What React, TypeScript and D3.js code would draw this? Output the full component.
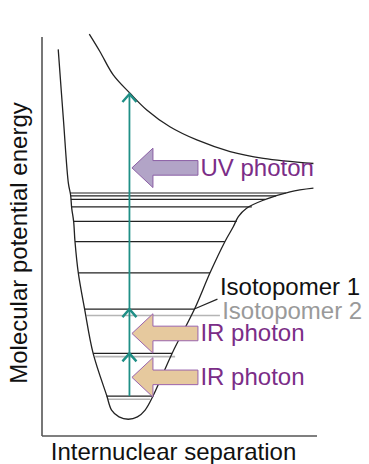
import React from "react";
import * as d3 from "d3";

// Ground-state potential, [separation, energy] (arbitrary units)
const groundCurve: [number, number][] = [
  [0.59, 9.69], [0.78, 7.92], [0.96, 6.33], [1.04, 6.04], [1.08, 5.71],
  [1.15, 5.38], [1.2, 4.87], [1.32, 4.09], [1.55, 3.18], [1.86, 2.07],
  [2.35, 1.02], [2.53, 0.65], [2.8, 0.48], [3.14, 0.42], [3.47, 0.48],
  [3.75, 0.65], [4.05, 1.02], [4.73, 2.07], [5.56, 3.2], [6.11, 4.09],
  [6.65, 4.87], [6.96, 5.25], [7.14, 5.5], [7.44, 5.71], [8.05, 5.91],
  [9.02, 6.12], [9.87, 6.21],
];

// Repulsive excited state
const excitedCurve: [number, number][] = [
  [1.72, 10.07], [2.11, 9.63], [2.59, 9.05], [3.2, 8.59], [3.81, 8.17],
  [4.65, 7.75], [5.63, 7.42], [6.84, 7.13], [8.05, 6.96], [9.87, 6.83],
];

// Vibrational levels: [energy, left r, right r]
const levelsIso1: [number, number, number][] = [
  [1.0, 2.35, 4.05], [2.07, 1.86, 4.73], [3.18, 1.55, 5.56], [4.09, 1.32, 6.11],
  [4.87, 1.2, 6.65], [5.38, 1.14, 7.08], [5.74, 1.07, 7.63], [5.93, 1.05, 8.11],
  [6.02, 1.04, 8.51], [6.09, 1.02, 8.87],
];
const levelsIso2: [number, number, number][] = [
  [0.92, 2.4, 3.93], [1.99, 1.93, 4.84], [3.02, 1.62, 6.47],
];

// Excitation steps (teal) at fixed separation
const transitionR = 3.18;
const transitions: [number, number][] = [[1.0, 2.07], [2.07, 3.18], [3.18, 8.57]];

// Photons: label, energy of arrow centre, kind
const photonLabels = ["UV photon", "IR photon", "IR photon"];
const photonEnergies = [6.72, 2.57, 1.47];
const photonKinds = ["uv", "ir", "ir"];

const W = 369;
const H = 464;
const FONT = "'Liberation Sans', Arial, Helvetica, sans-serif";
const PURPLE = "#7b2d87";
const TEAL = "#1f8f86";

export default function App() {
  const x = d3.scaleLinear().domain([0, 10]).range([42, 317]);
  const y = d3.scaleLinear().domain([0, 10]).range([436, 37]);

  const line = d3
    .line<[number, number]>()
    .x((d) => x(d[0]))
    .y((d) => y(d[1]))
    .curve(d3.curveCatmullRom.alpha(0.5));

  const tx = x(transitionR);

  // block arrow pointing left, tip at (0,0)
  const arrowPath = "M0,0 L21,-19.7 L21,-7.3 L66,-7.3 L66,7.3 L21,7.3 L21,19.7 Z";

  return (
    <svg
      width={W}
      height={H}
      style={{ position: "absolute", left: 0, top: 0, background: "#fff" }}
      fontFamily={FONT}
    >
      {/* axes */}
      <line x1={x(0)} x2={x(0)} y1={y(10)} y2={y(0)} stroke="#555" strokeWidth={1.6} />
      <line x1={x(0)} x2={x(10)} y1={y(0)} y2={y(0)} stroke="#555" strokeWidth={1.6} />

      {/* isotopomer 2 levels */}
      {levelsIso2.map(([e, r0, r1], i) => (
        <line key={"g" + i} x1={x(r0)} x2={x(r1)} y1={y(e)} y2={y(e)} stroke="#b5b5b5" strokeWidth={1.6} />
      ))}
      {/* isotopomer 1 levels */}
      {levelsIso1.map(([e, r0, r1], i) => (
        <line key={"b" + i} x1={x(r0)} x2={x(r1)} y1={y(e)} y2={y(e)} stroke="#222" strokeWidth={1.2} />
      ))}

      <path d={line(groundCurve) || ""} fill="none" stroke="#222" strokeWidth={1.3} />
      <path d={line(excitedCurve) || ""} fill="none" stroke="#222" strokeWidth={1.3} />

      {/* leader for Isotopomer 1 */}
      <line x1={x(5.56)} y1={y(3.19)} x2={x(6.38)} y2={y(3.43)} stroke="#222" strokeWidth={1.2} />

      {/* teal transitions */}
      {transitions.map(([e0, e1], i) => (
        <g key={"t" + i}>
          <line x1={tx} x2={tx} y1={y(e0)} y2={y(e1)} stroke={TEAL} strokeWidth={1.8} />
          <polyline
            points={`${tx - 7},${y(e1) + 8} ${tx},${y(e1)} ${tx + 7},${y(e1) + 8}`}
            fill="none"
            stroke={TEAL}
            strokeWidth={2.4}
          />
        </g>
      ))}

      {/* photon arrows */}
      {photonLabels.map((label, i) => {
        const cy = y(photonEnergies[i]);
        const uv = photonKinds[i] === "uv";
        return (
          <g key={"p" + i}>
            <path
              d={arrowPath}
              transform={`translate(${tx + 2.5},${cy})`}
              fill={uv ? "#b2a4c7" : "#e6c99e"}
              stroke={uv ? "#8b5fa5" : "#9a64ad"}
              strokeWidth={1}
            />
            <text x={tx + 71} y={cy + 8} fontSize={24} fill={PURPLE}>
              {label}
            </text>
          </g>
        );
      })}

      <text x={x(6.47)} y={y(3.54)} fontSize={24} fill="#111">
        Isotopomer 1
      </text>
      <text x={x(6.55)} y={y(2.92)} fontSize={24} fill="#9a9a9a">
        Isotopomer 2
      </text>

      <text x={173.5} y={460} fontSize={24} textAnchor="middle" fill="#111">
        Internuclear separation
      </text>
      <text
        transform="translate(27.3,243) rotate(-90)"
        fontSize={24}
        textAnchor="middle"
        fill="#111"
      >
        Molecular potential energy
      </text>
    </svg>
  );
}
